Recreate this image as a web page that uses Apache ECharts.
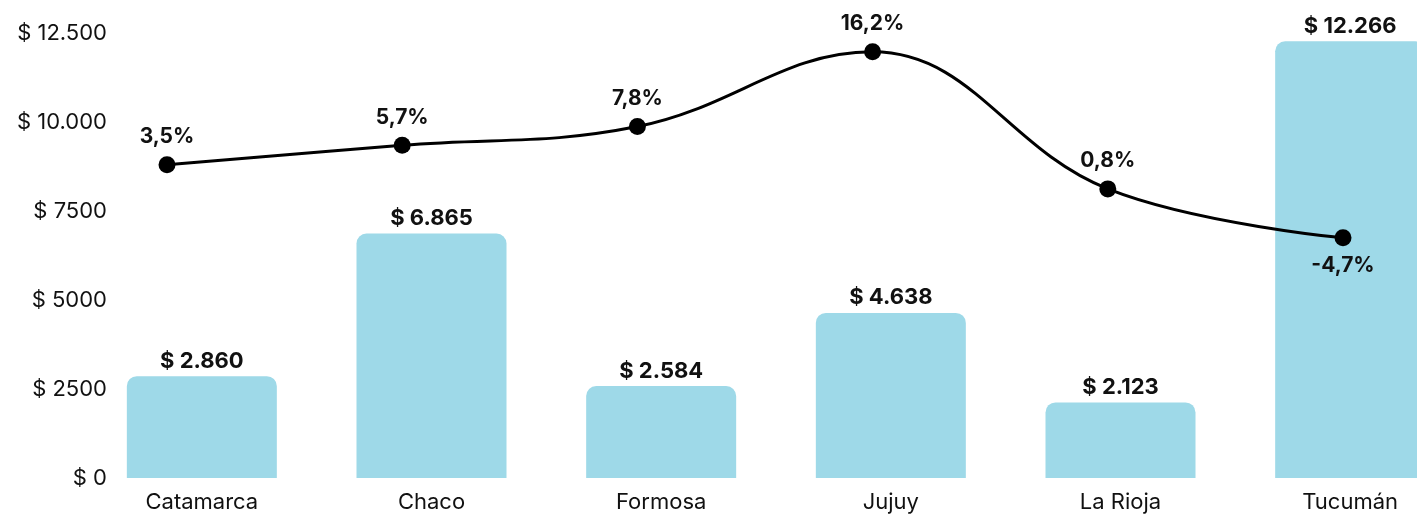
<!DOCTYPE html>
<html>
<head>
<meta charset="utf-8">
<script src="https://cdn.jsdelivr.net/npm/echarts@6/dist/echarts.min.js"></script>
<style>
  html, body { margin: 0; padding: 0; background: #fff; }
  #chart { width: 1417px; height: 515px; }
</style>
</head>
<body>
<div id="chart"></div>
<script>
// datos
let provincias = ['Catamarca', 'Chaco', 'Formosa', 'Jujuy', 'La Rioja', 'Tucumán']
let montos = [2860, 6865, 2584, 4638, 2123, 12266]
let variacion = [3.5, 5.7, 7.8, 16.2, 0.8, -4.7]

let fuente = 'Inter'

function miles(v) {
  return String(v).replace(/\B(?=(\d{3})+(?!\d))/g, '.')
}

let chart = echarts.init(document.getElementById('chart'))

let options = {
  animation: false,
  textStyle: { fontFamily: fuente },
  grid: [
    { left: 87, right: -48, top: 33, bottom: 37, outerBoundsMode: 'none' },
    { left: 167, right: 74, top: 18, bottom: 230, outerBoundsMode: 'none' }
  ],
  xAxis: [
    {
      type: 'category',
      gridIndex: 0,
      data: provincias,
      axisLine: { show: false },
      axisTick: { show: false },
      axisLabel: { color: '#111', fontSize: 22, margin: 13, fontFamily: fuente }
    },
    {
      type: 'category',
      gridIndex: 1,
      data: provincias,
      boundaryGap: false,
      show: false
    }
  ],
  yAxis: [
    {
      type: 'value',
      gridIndex: 0,
      min: 0,
      max: 12500,
      interval: 2500,
      splitLine: { show: false },
      axisLine: { show: false },
      axisTick: { show: false },
      axisLabel: {
        color: '#111',
        fontSize: 22,
        margin: -20,
        fontFamily: fuente,
        formatter: function (v) {
          return '$ ' + (v >= 10000 ? miles(v) : v)
        }
      }
    },
    {
      type: 'value',
      gridIndex: 1,
      min: -10,
      max: 20,
      show: false
    }
  ],
  series: [
    {
      type: 'bar',
      xAxisIndex: 0,
      yAxisIndex: 0,
      data: montos,
      barWidth: 150,
      itemStyle: { color: '#9ed9e8', borderRadius: [10, 10, 0, 0] },
      label: {
        show: true,
        position: 'top',
        distance: 4,
        color: '#111',
        fontWeight: 'bold',
        fontSize: 22,
        fontFamily: fuente,
        formatter: function (p) { return '$ ' + miles(p.value) }
      }
    },
    {
      type: 'line',
      xAxisIndex: 1,
      yAxisIndex: 1,
      z: 5,
      smooth: 0.4,
      data: variacion.map(function (v) {
        return v < 0 ? { value: v, label: { position: 'bottom' } } : v
      }),
      symbol: 'circle',
      symbolSize: 17,
      lineStyle: { color: '#000', width: 3 },
      itemStyle: { color: '#000' },
      label: {
        show: true,
        position: 'top',
        distance: 9,
        color: '#111',
        fontWeight: 'bold',
        fontSize: 21,
        fontFamily: fuente,
        formatter: function (p) { return String(p.value).replace('.', ',') + '%' }
      }
    }
  ]
}

chart.setOption(options)
</script>
</body>
</html>
